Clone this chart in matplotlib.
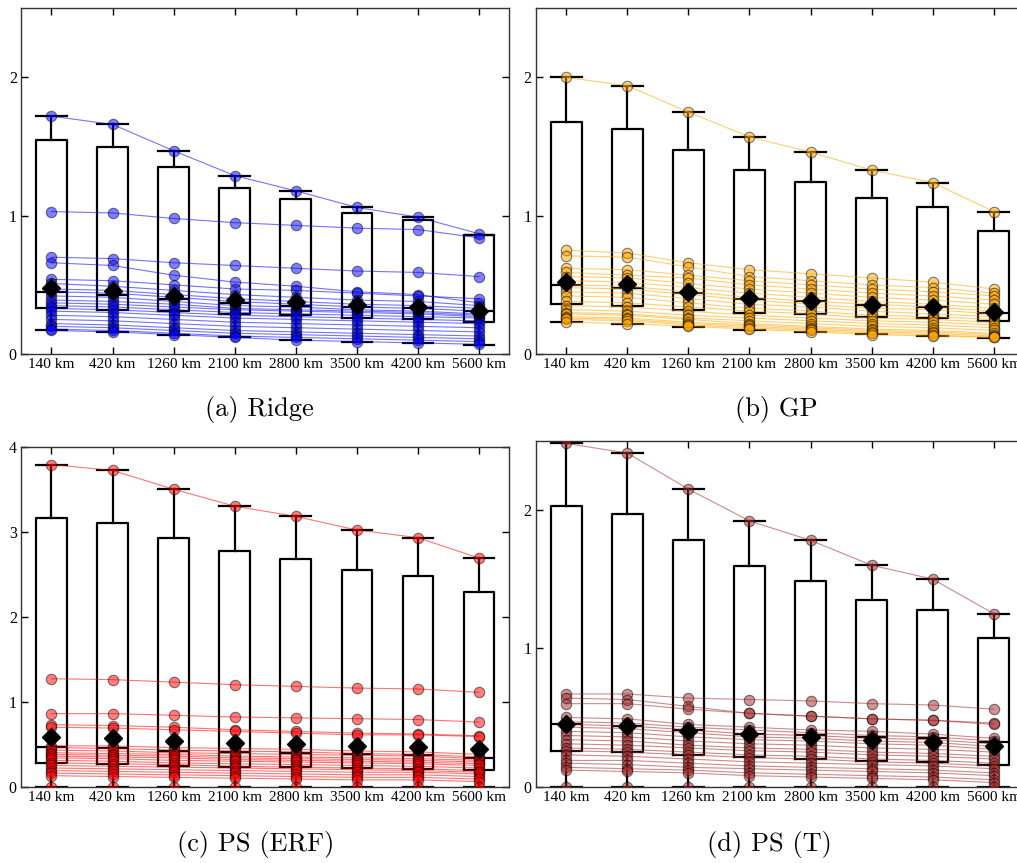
import numpy as np
import matplotlib
matplotlib.use('Agg')
import matplotlib.pyplot as plt

# distancias (rotulos do eixo x)
distancias = ['140 km', '420 km', '1260 km', '2100 km', '2800 km', '3500 km', '4200 km', '5600 km']

# ---------------- (a) Ridge ----------------
ridge_q1 = [0.33, 0.32, 0.31, 0.29, 0.28, 0.26, 0.25, 0.23]
ridge_med = [0.45, 0.43, 0.40, 0.37, 0.35, 0.34, 0.33, 0.31]
ridge_q3 = [1.55, 1.50, 1.35, 1.20, 1.12, 1.02, 0.97, 0.86]
ridge_lo = [0.17, 0.16, 0.14, 0.12, 0.10, 0.09, 0.08, 0.065]
ridge_hi = [1.72, 1.66, 1.47, 1.29, 1.18, 1.06, 0.99, 0.86]
ridge_media = [0.475, 0.457, 0.421, 0.39, 0.375, 0.351, 0.339, 0.31]
ridge_series = [
    [1.72, 1.66, 1.47, 1.29, 1.18, 1.06, 0.99, 0.87],
    [1.03, 1.02, 0.98, 0.95, 0.93, 0.91, 0.90, 0.84],
    [0.70, 0.69, 0.66, 0.64, 0.62, 0.60, 0.59, 0.56],
    [0.66, 0.64, 0.57, 0.52, 0.49, 0.45, 0.43, 0.37],
    [0.54, 0.53, 0.50, 0.47, 0.46, 0.44, 0.42, 0.40],
    [0.51, 0.49, 0.46, 0.43, 0.41, 0.39, 0.38, 0.35],
    [0.47, 0.46, 0.43, 0.40, 0.38, 0.36, 0.35, 0.33],
    [0.45, 0.44, 0.41, 0.38, 0.36, 0.34, 0.33, 0.31],
    [0.42, 0.41, 0.38, 0.35, 0.34, 0.32, 0.31, 0.29],
    [0.39, 0.38, 0.36, 0.33, 0.32, 0.31, 0.30, 0.28],
    [0.37, 0.36, 0.34, 0.32, 0.31, 0.30, 0.29, 0.27],
    [0.35, 0.34, 0.32, 0.30, 0.29, 0.28, 0.27, 0.26],
    [0.33, 0.32, 0.30, 0.28, 0.27, 0.26, 0.25, 0.24],
    [0.31, 0.30, 0.28, 0.26, 0.25, 0.24, 0.23, 0.22],
    [0.28, 0.27, 0.25, 0.23, 0.22, 0.21, 0.20, 0.19],
    [0.25, 0.24, 0.22, 0.20, 0.19, 0.18, 0.17, 0.16],
    [0.22, 0.21, 0.19, 0.17, 0.16, 0.15, 0.14, 0.13],
    [0.20, 0.19, 0.17, 0.15, 0.14, 0.13, 0.12, 0.11],
    [0.18, 0.17, 0.15, 0.13, 0.12, 0.11, 0.10, 0.09],
    [0.17, 0.16, 0.14, 0.12, 0.10, 0.09, 0.08, 0.07],
]

# ---------------- (b) GP ----------------
gp_q1 = [0.36, 0.35, 0.315, 0.30, 0.29, 0.27, 0.26, 0.236]
gp_med = [0.50, 0.48, 0.44, 0.40, 0.38, 0.354, 0.337, 0.30]
gp_q3 = [1.68, 1.63, 1.475, 1.33, 1.244, 1.131, 1.061, 0.89]
gp_lo = [0.229, 0.219, 0.195, 0.173, 0.161, 0.144, 0.132, 0.116]
gp_hi = [2.00, 1.94, 1.75, 1.57, 1.46, 1.33, 1.24, 1.03]
gp_media = [0.52, 0.503, 0.448, 0.407, 0.383, 0.354, 0.339, 0.301]
gp_series = [
    [2.00, 1.94, 1.75, 1.57, 1.46, 1.33, 1.24, 1.03],
    [0.75, 0.73, 0.66, 0.61, 0.58, 0.55, 0.52, 0.47],
    [0.71, 0.70, 0.63, 0.56, 0.53, 0.50, 0.48, 0.44],
    [0.62, 0.61, 0.57, 0.53, 0.50, 0.47, 0.45, 0.42],
    [0.59, 0.57, 0.55, 0.50, 0.47, 0.44, 0.42, 0.39],
    [0.56, 0.55, 0.51, 0.47, 0.44, 0.41, 0.39, 0.36],
    [0.53, 0.52, 0.48, 0.44, 0.41, 0.38, 0.36, 0.33],
    [0.50, 0.49, 0.45, 0.41, 0.38, 0.36, 0.34, 0.31],
    [0.48, 0.47, 0.43, 0.39, 0.36, 0.33, 0.32, 0.29],
    [0.45, 0.44, 0.40, 0.36, 0.34, 0.31, 0.29, 0.27],
    [0.42, 0.41, 0.37, 0.33, 0.31, 0.28, 0.27, 0.25],
    [0.38, 0.37, 0.34, 0.31, 0.29, 0.26, 0.25, 0.23],
    [0.35, 0.34, 0.31, 0.28, 0.26, 0.24, 0.23, 0.21],
    [0.32, 0.31, 0.28, 0.26, 0.24, 0.22, 0.21, 0.19],
    [0.30, 0.29, 0.26, 0.24, 0.22, 0.20, 0.19, 0.17],
    [0.29, 0.28, 0.25, 0.22, 0.20, 0.18, 0.17, 0.15],
    [0.27, 0.26, 0.23, 0.21, 0.19, 0.17, 0.16, 0.14],
    [0.26, 0.25, 0.22, 0.20, 0.18, 0.16, 0.15, 0.13],
    [0.25, 0.24, 0.21, 0.19, 0.17, 0.15, 0.14, 0.12],
    [0.23, 0.22, 0.20, 0.18, 0.16, 0.14, 0.13, 0.12],
]

# ---------------- (c) PS (ERF) ----------------
erf_q1 = [0.275, 0.267, 0.247, 0.235, 0.227, 0.216, 0.212, 0.196]
erf_med = [0.471, 0.459, 0.424, 0.404, 0.393, 0.385, 0.373, 0.341]
erf_q3 = [3.16, 3.10, 2.93, 2.77, 2.68, 2.55, 2.48, 2.29]
erf_lo = [0.0, 0.0, 0.0, 0.0, 0.0, 0.0, 0.0, 0.0]
erf_hi = [3.79, 3.72, 3.50, 3.30, 3.18, 3.02, 2.93, 2.69]
erf_media = [0.588, 0.569, 0.541, 0.518, 0.502, 0.479, 0.463, 0.44]
erf_series = [
    [3.79, 3.72, 3.50, 3.30, 3.18, 3.02, 2.93, 2.69],
    [1.27, 1.26, 1.23, 1.20, 1.18, 1.16, 1.15, 1.11],
    [0.86, 0.86, 0.84, 0.82, 0.81, 0.80, 0.79, 0.76],
    [0.73, 0.72, 0.70, 0.67, 0.65, 0.63, 0.62, 0.60],
    [0.70, 0.69, 0.67, 0.65, 0.63, 0.61, 0.61, 0.59],
    [0.48, 0.48, 0.46, 0.45, 0.44, 0.42, 0.41, 0.38],
    [0.46, 0.45, 0.43, 0.42, 0.41, 0.39, 0.38, 0.35],
    [0.43, 0.42, 0.40, 0.39, 0.38, 0.37, 0.36, 0.33],
    [0.40, 0.39, 0.38, 0.36, 0.35, 0.34, 0.33, 0.31],
    [0.38, 0.37, 0.36, 0.34, 0.33, 0.32, 0.31, 0.29],
    [0.36, 0.35, 0.34, 0.32, 0.31, 0.30, 0.29, 0.27],
    [0.34, 0.33, 0.31, 0.30, 0.29, 0.28, 0.27, 0.25],
    [0.31, 0.30, 0.28, 0.27, 0.26, 0.25, 0.24, 0.22],
    [0.28, 0.27, 0.26, 0.24, 0.23, 0.22, 0.21, 0.19],
    [0.25, 0.24, 0.23, 0.22, 0.21, 0.20, 0.19, 0.17],
    [0.22, 0.21, 0.20, 0.19, 0.18, 0.17, 0.17, 0.15],
    [0.19, 0.18, 0.17, 0.16, 0.15, 0.14, 0.14, 0.12],
    [0.16, 0.15, 0.14, 0.13, 0.12, 0.11, 0.11, 0.09],
    [0.13, 0.12, 0.11, 0.10, 0.09, 0.08, 0.08, 0.06],
    [0.0, 0.0, 0.0, 0.0, 0.0, 0.0, 0.0, 0.0],
]

# ---------------- (d) PS (T) ----------------
t_q1 = [0.26, 0.251, 0.227, 0.212, 0.202, 0.188, 0.178, 0.159]
t_med = [0.453, 0.441, 0.41, 0.381, 0.374, 0.362, 0.35, 0.325]
t_q3 = [2.03, 1.97, 1.78, 1.594, 1.487, 1.352, 1.273, 1.077]
t_lo = [0.0, 0.0, 0.0, 0.0, 0.0, 0.0, 0.0, 0.0]
t_hi = [2.48, 2.41, 2.15, 1.92, 1.78, 1.60, 1.50, 1.25]
t_media = [0.453, 0.441, 0.405, 0.379, 0.362, 0.338, 0.323, 0.294]
t_series = [
    [2.48, 2.41, 2.15, 1.92, 1.78, 1.60, 1.50, 1.25],
    [0.67, 0.67, 0.64, 0.63, 0.62, 0.60, 0.59, 0.56],
    [0.64, 0.63, 0.58, 0.53, 0.51, 0.49, 0.48, 0.46],
    [0.60, 0.60, 0.56, 0.53, 0.51, 0.49, 0.48, 0.45],
    [0.50, 0.49, 0.45, 0.43, 0.41, 0.40, 0.38, 0.35],
    [0.47, 0.46, 0.43, 0.41, 0.39, 0.37, 0.36, 0.33],
    [0.45, 0.44, 0.41, 0.38, 0.37, 0.35, 0.34, 0.31],
    [0.43, 0.42, 0.39, 0.36, 0.35, 0.33, 0.32, 0.29],
    [0.40, 0.39, 0.36, 0.34, 0.33, 0.31, 0.30, 0.27],
    [0.37, 0.36, 0.33, 0.31, 0.30, 0.28, 0.27, 0.25],
    [0.34, 0.33, 0.30, 0.28, 0.27, 0.25, 0.24, 0.22],
    [0.31, 0.30, 0.28, 0.26, 0.25, 0.23, 0.22, 0.20],
    [0.28, 0.27, 0.25, 0.23, 0.22, 0.20, 0.19, 0.17],
    [0.26, 0.25, 0.23, 0.21, 0.20, 0.18, 0.17, 0.15],
    [0.23, 0.22, 0.20, 0.18, 0.17, 0.16, 0.15, 0.13],
    [0.19, 0.19, 0.17, 0.15, 0.14, 0.13, 0.12, 0.10],
    [0.17, 0.16, 0.14, 0.13, 0.12, 0.11, 0.10, 0.08],
    [0.14, 0.13, 0.12, 0.10, 0.09, 0.08, 0.07, 0.05],
    [0.12, 0.11, 0.10, 0.08, 0.07, 0.06, 0.05, 0.03],
    [0.0, 0.0, 0.0, 0.0, 0.0, 0.0, 0.0, 0.0],
]

paineis = [
    ('(a) Ridge', 'blue', ridge_q1, ridge_med, ridge_q3, ridge_lo, ridge_hi, ridge_media, ridge_series, [0, 1, 2], 2.5),
    ('(b) GP', 'orange', gp_q1, gp_med, gp_q3, gp_lo, gp_hi, gp_media, gp_series, [0, 1, 2], 2.5),
    ('(c) PS (ERF)', 'red', erf_q1, erf_med, erf_q3, erf_lo, erf_hi, erf_media, erf_series, [0, 1, 2, 3, 4], 4.0),
    ('(d) PS (T)', 'brown', t_q1, t_med, t_q3, t_lo, t_hi, t_media, t_series, [0, 1, 2], 2.5),
]

# posicoes dos eixos em fracao da figura (left, bottom, width, height)
# os paineis da direita passam um pouco da borda, como no original
posicoes = [
    [0.0206, 0.5898, 0.4803, 0.4006],
    [0.5268, 0.5898, 0.4803, 0.4006],
    [0.0206, 0.0884, 0.4803, 0.3940],
    [0.5268, 0.0884, 0.4803, 0.4010],
]
legenda_xy = [(0.255, 0.525), (0.763, 0.525), (0.251, 0.021), (0.757, 0.021)]

fig = plt.figure(figsize=(10.17, 8.63), dpi=100)
x = np.arange(1, len(distancias) + 1)

for k, (titulo, cor, q1, med, q3, lo, hi, media, series, yt, ymax) in enumerate(paineis):
    ax = fig.add_axes(posicoes[k])
    stats = []
    for i in range(len(distancias)):
        stats.append({'q1': q1[i], 'med': med[i], 'q3': q3[i],
                      'whislo': lo[i], 'whishi': hi[i], 'fliers': []})
    caixa = dict(color='black', linewidth=1.6)
    ax.bxp(stats, positions=x, widths=0.5, capwidths=0.5, showfliers=False,
           boxprops=caixa, medianprops=caixa, whiskerprops=caixa, capprops=caixa,
           manage_ticks=False, zorder=2)
    for s in series:
        ax.plot(x, s, '-', color=cor, lw=0.8, alpha=0.55, zorder=3)
        ax.plot(x, s, 'o', color=cor, ms=7.5, mec='black', mew=0.8, alpha=0.5, zorder=4)
    ax.plot(x, media, 'D', color='black', ms=9.5, zorder=5)

    ax.set_xlim(0.5, 8.5)
    ax.set_ylim(0, ymax)
    ax.set_xticks(x)
    ax.set_xticklabels(distancias, fontsize=11, family='Liberation Serif')
    ax.set_yticks(yt)
    ax.set_yticklabels([str(v) for v in yt], fontsize=11.5, family='Liberation Serif')
    ax.tick_params(direction='in', top=True, right=True, length=5, width=1, pad=3)
    for sp in ax.spines.values():
        sp.set_linewidth(1.0)
        sp.set_color('#333333')
    fig.text(legenda_xy[k][0], legenda_xy[k][1], titulo, ha='center', va='center',
             fontsize=19, family='cmr10')

fig.savefig('out.png', dpi=100)
